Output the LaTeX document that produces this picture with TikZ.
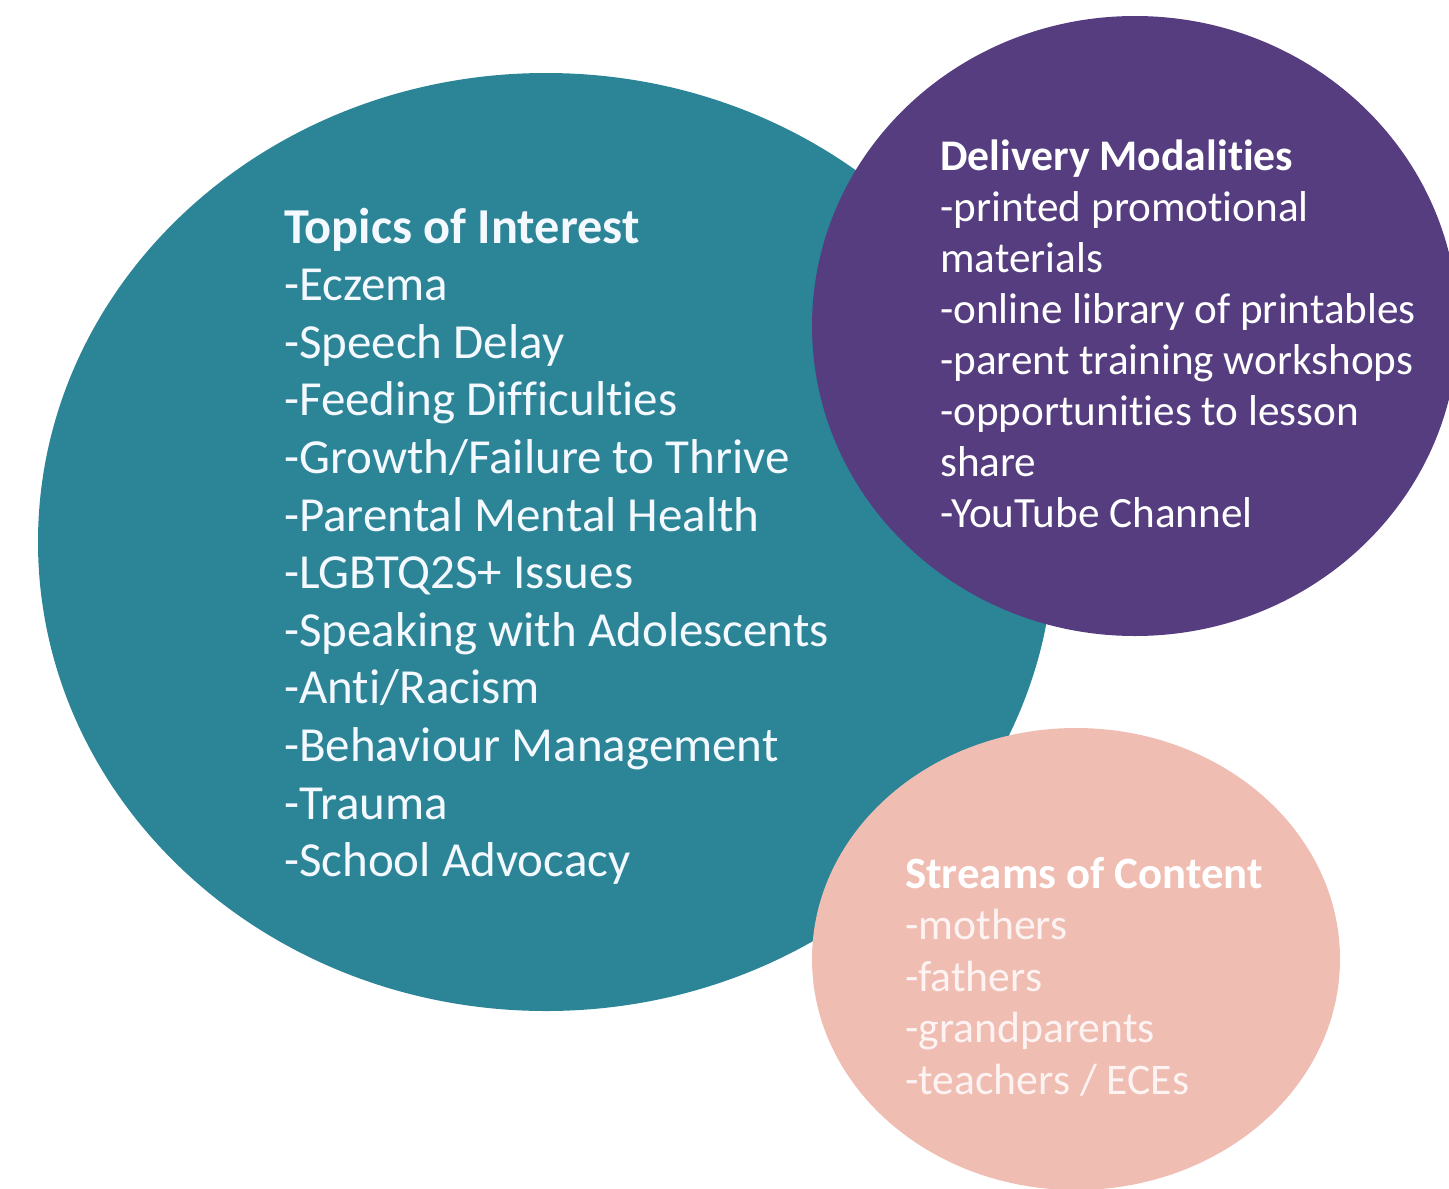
\documentclass[tikz,border=0pt]{standalone}
\usepackage{fontspec}
\setmainfont{Carlito}[Ligatures=NoCommon]
\begin{document}
\begin{tikzpicture}[x=1pt,y=-1pt,
  head/.style={anchor=base west,inner sep=0pt,font=\fontsize{#1}{#1}\selectfont\bfseries},
  item/.style={anchor=base west,inner sep=0pt,font=\fontsize{#1}{#1}\selectfont}]
\definecolor{teal}{HTML}{2B8597}
\definecolor{plum}{HTML}{553D80}
\definecolor{blush}{HTML}{F0BDB3}
\definecolor{tealtext}{HTML}{F4F8FF}
\definecolor{blushtext}{HTML}{FCF3F2}
\useasboundingbox (0,0) rectangle (1449,1189);
\clip (0,0) rectangle (1449,1189);
% circles
\fill[teal] (546,542) ellipse [x radius=508, y radius=469];
\fill[plum] (1135,326) ellipse [x radius=323, y radius=310];
\fill[blush] (1076,959) ellipse [x radius=264, y radius=231];
% topics
\node[head=50.3,text=tealtext] (th) at (284,243) {Topics of Interest};
\foreach \t [count=\i] in {-Eczema,-Speech Delay,-Feeding Difficulties,-Growth/Failure to Thrive,-Parental Mental Health,-LGBTQ2S+ Issues,-Speaking with Adolescents,-Anti/Racism,-Behaviour Management,-Trauma,-School Advocacy}
  \node[item=49,text=tealtext] (t\i) at (284,{243+57.6*\i}) {\t};
% delivery
\node[head=43.7,text=white] (dh) at (940,170) {Delivery Modalities};
\foreach \t [count=\i] in {-printed promotional,materials,-online library of printables,-parent training workshops,-opportunities to lesson,share,-YouTube Channel}
  \node[item=43.2,text=white] (d\i) at (940,{170+51*\i}) {\t};
% streams
\node[head=44.8,text=white] (sh) at (905,888) {Streams of Content};
\foreach \t [count=\i] in {-mothers,-fathers,-grandparents,-teachers / ECEs}
  \node[item=43.7,text=blushtext] (s\i) at (905,{888+51.5*\i}) {\t};
\end{tikzpicture}
\end{document}
